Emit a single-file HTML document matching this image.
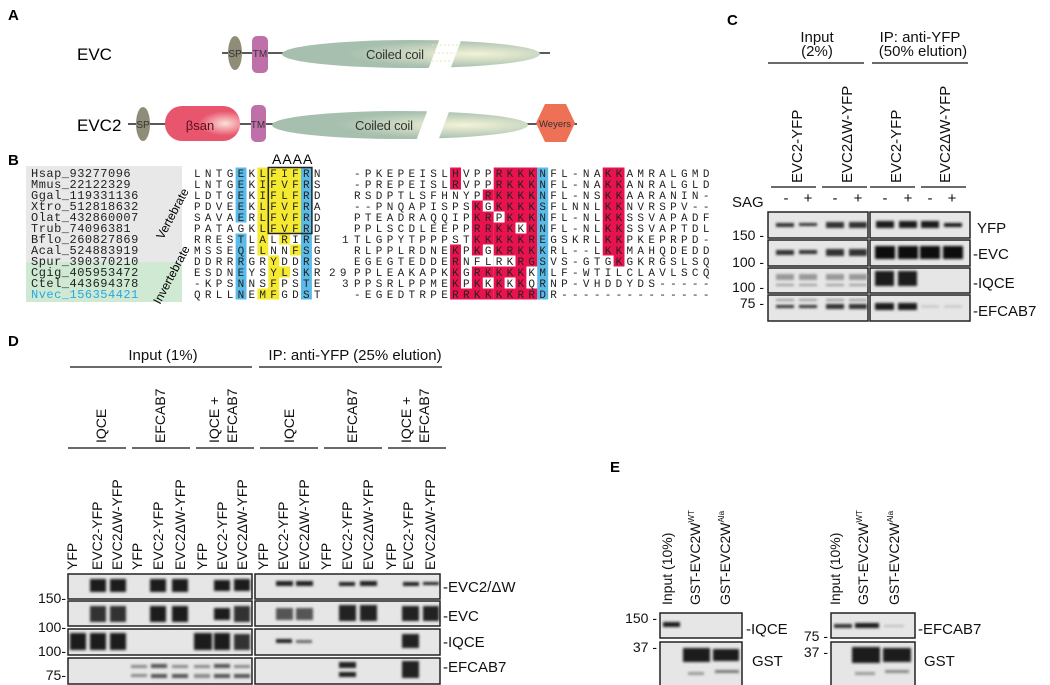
<!DOCTYPE html>
<html><head><meta charset="utf-8"><style>
html,body{margin:0;padding:0;background:#fff}
svg{display:block}
.s{font-family:"Liberation Sans",sans-serif}
.m{font-family:"Liberation Mono",monospace;font-size:11px;letter-spacing:4.3px;fill:#222}
.pl{font-family:"Liberation Sans",sans-serif;font-weight:bold;font-size:15px}
</style></head><body>
<svg width="1050" height="685" viewBox="0 0 1050 685" xmlns="http://www.w3.org/2000/svg">
<defs>
<filter id="b" x="-30%" y="-60%" width="160%" height="220%"><feGaussianBlur stdDeviation="1.2"/></filter>
<radialGradient id="cc" cx="0.75" cy="0.5" r="0.5"><stop offset="0" stop-color="#f4f3d8"/><stop offset="1" stop-color="#a6bfae"/></radialGradient>
<radialGradient id="bs" cx="0.8" cy="0.5" r="0.35"><stop offset="0" stop-color="#fbe0d8"/><stop offset="1" stop-color="#e8566e"/></radialGradient>
</defs>

<text class="pl" x="8" y="20">A</text>
<text class="pl" x="8" y="165">B</text>
<text class="pl" x="727" y="25">C</text>
<text class="pl" x="8" y="346">D</text>
<text class="pl" x="610" y="472">E</text>

<g class="s">
<text x="77" y="60" font-size="17">EVC</text>
<line x1="222" y1="53" x2="550" y2="53" stroke="#222" stroke-width="1.5"/>
<ellipse cx="235" cy="53" rx="7" ry="17" fill="#8f8c78"/>
<text x="235" y="57" font-size="10" text-anchor="middle" fill="#333">SP</text>
<rect x="252" y="36" width="16" height="37" rx="5" fill="#c070a8"/>
<text x="260" y="57" font-size="10" text-anchor="middle" fill="#333">TM</text>
<ellipse cx="411" cy="54" rx="129" ry="14" fill="url(#cc)"/>
<polygon points="440,38 462,38 450,70 428,70" fill="#fff"/>
<line x1="432" y1="45" x2="458" y2="45" stroke="#e0e8b0" stroke-dasharray="2,2"/>
<line x1="430" y1="53" x2="455" y2="53" stroke="#e0e8b0" stroke-dasharray="2,2"/>
<line x1="428" y1="61" x2="452" y2="61" stroke="#e0e8b0" stroke-dasharray="2,2"/>
<text x="366" y="59" font-size="13" fill="#333" textLength="58">Coiled coil</text>

<text x="77" y="131" font-size="17">EVC2</text>
<line x1="128" y1="124" x2="577" y2="124" stroke="#222" stroke-width="1.5"/>
<ellipse cx="143" cy="124" rx="7" ry="17" fill="#8f8c78"/>
<text x="143" y="128" font-size="10" text-anchor="middle" fill="#333">SP</text>
<rect x="165" y="106" width="75" height="35" rx="17" fill="url(#bs)"/>
<text x="200" y="130" font-size="13" text-anchor="middle" fill="#5a1020">βsan</text>
<rect x="251" y="105" width="15" height="37" rx="5" fill="#c070a8"/>
<text x="258" y="128" font-size="10" text-anchor="middle" fill="#333">TM</text>
<ellipse cx="400" cy="125" rx="128" ry="14" fill="url(#cc)"/>
<polygon points="428,109 450,109 438,141 416,141" fill="#fff"/>
<text x="355" y="130" font-size="13" fill="#333" textLength="58">Coiled coil</text>
<polygon points="545,104 566,104 575,123 566,142 545,142 536,123" fill="#ee7055"/>
<text x="555" y="127" font-size="9.5" text-anchor="middle" fill="#333">Weyers</text>
</g>

<rect x="26" y="166" width="156" height="96" fill="#e8e8e8"/>
<rect x="26" y="262" width="156" height="40" fill="#cfe9d3"/>
<g font-family="Liberation Mono,monospace" font-size="12" letter-spacing="0.5" fill="#222">
<text x="31" y="177">Hsap_93277096</text>
<text x="31" y="188">Mmus_22122329</text>
<text x="31" y="199">Ggal_119331136</text>
<text x="31" y="210">Xtro_512818632</text>
<text x="31" y="221">Olat_432860007</text>
<text x="31" y="232">Trub_74096381</text>
<text x="31" y="243">Bflo_260827869</text>
<text x="31" y="254">Acal_524883919</text>
<text x="31" y="265">Spur_390370210</text>
<text x="31" y="276">Cgig_405953472</text>
<text x="31" y="287">Ctel_443694378</text>
<text x="31" y="298" fill="#29a8e0">Nvec_156354421</text>
</g>
<text class="s" font-size="12" transform="translate(163,240) rotate(-62)">Vertebrate</text>
<text class="s" font-size="12" transform="translate(160,305) rotate(-62)">Invertebrate</text>

<g>
<rect x="235.6" y="167.5" width="10.9" height="55" fill="#5bbbe8"/>
<rect x="235.6" y="233.5" width="10.9" height="66" fill="#5bbbe8"/>
<rect x="301" y="167.5" width="10.9" height="132" fill="#5bbbe8"/>
<rect x="257.4" y="167.5" width="43.6" height="66" fill="#f5ea30"/>
<rect x="257.4" y="233.5" width="10.9" height="11" fill="#f5ea30"/>
<rect x="279.2" y="233.5" width="10.9" height="11" fill="#f5ea30"/>
<rect x="257.4" y="244.5" width="10.9" height="11" fill="#f5ea30"/>
<rect x="290.1" y="244.5" width="10.9" height="11" fill="#f5ea30"/>
<rect x="268.3" y="255.5" width="10.9" height="11" fill="#f5ea30"/>
<rect x="268.3" y="266.5" width="21.8" height="11" fill="#f5ea30"/>
<rect x="268.3" y="277.5" width="10.9" height="11" fill="#f5ea30"/>
<rect x="257.4" y="288.5" width="21.8" height="11" fill="#f5ea30"/>
<rect x="268.3" y="167.5" width="43.6" height="66" fill="none" stroke="#222" stroke-width="1.5"/>
</g>
<text class="s" font-size="14" x="272" y="164" letter-spacing="1">AAAA</text>

<g fill="#e8134e">
<rect x="450.1" y="167.5" width="10.9" height="22"/>
<rect x="493.7" y="167.5" width="43.6" height="132"/>
<rect x="482.8" y="189.5" width="10.9" height="11"/>
<rect x="471.9" y="200.5" width="10.9" height="11"/>
<rect x="471.9" y="211.5" width="21.8" height="11"/>
<rect x="471.9" y="222.5" width="21.8" height="22"/>
<rect x="450.1" y="244.5" width="10.9" height="11"/>
<rect x="471.9" y="244.5" width="10.9" height="11"/>
<rect x="450.1" y="255.5" width="10.9" height="11"/>
<rect x="450.1" y="266.5" width="10.9" height="33"/>
<rect x="471.9" y="266.5" width="21.8" height="11"/>
<rect x="471.9" y="277.5" width="10.9" height="11"/>
<rect x="461" y="288.5" width="32.7" height="11"/>
<rect x="602.7" y="167.5" width="21.8" height="88"/>
<rect x="613.6" y="255.5" width="10.9" height="11"/>
</g>
<g fill="#fff">
<rect x="493.7" y="211.5" width="10.9" height="11"/>
<rect x="515.5" y="222.5" width="10.9" height="11"/>
<rect x="493.7" y="255.5" width="21.8" height="11"/>
<rect x="504.6" y="277.5" width="10.9" height="11"/>
<rect x="526.4" y="277.5" width="10.9" height="11"/>
<rect x="526.4" y="266.5" width="10.9" height="11"/>
</g>
<rect x="537.3" y="167.5" width="10.9" height="132" fill="#5bbbe8"/>

<g>
<text class="m" x="194" y="177">LNTGEKLFIFRN</text>
<text class="m" x="194" y="188">LNTGEKIFVFRS</text>
<text class="m" x="194" y="199">LDTGEKIFLFRD</text>
<text class="m" x="194" y="210">PDVEEKLFVFRA</text>
<text class="m" x="194" y="221">SAVAERLFVFRD</text>
<text class="m" x="194" y="232">PATAGKLFVFRD</text>
<text class="m" x="194" y="243">RRESTLALRIRE</text>
<text class="m" x="194" y="254">MSSEQELNNFSG</text>
<text class="m" x="194" y="265">DDRRRGRYDDRS</text>
<text class="m" x="194" y="276">ESDNEYSYLSKR</text>
<text class="m" x="194" y="287">-KPSNNSFPSTE</text>
<text class="m" x="194" y="298">QRLLNEMFGDST</text>

<text class="m" x="354" y="177">-PKEPEISLHVPPRKKKNFL-NAKKAMRALGMD</text>
<text class="m" x="354" y="188">-PREPEISLRVPPRKKKNFL-NAKKANRALGLD</text>
<text class="m" x="354" y="199">RSDPTLSFHNYPRKKKKNFL-NSKKAARANIN-</text>
<text class="m" x="354" y="210">--PNQAPISPSKGKKKKSFLNNLKKNVRSPV--</text>
<text class="m" x="354" y="221">PTEADRAQQIPKRPKKKNFL-NLKKSSVAPADF</text>
<text class="m" x="354" y="232">PPLSCDLEEPPRRKKKKNFL-NLKKSSVAPTDL</text>
<text class="m" x="354" y="243">TLGPYTPPPSTKKKKKREGSKRLKKPKEPRPD-</text>
<text class="m" x="354" y="254">RLPPLRDNEKPKGKRKKKRL--LKKMAHQDEDD</text>
<text class="m" x="354" y="265">EGEGTEDDERNFLRKRGSVS-GTGKGKRGSLSQ</text>
<text class="m" x="354" y="276">PPLEAKAPKKGRKKKKKMLF-WTILCLAVLSCQ</text>
<text class="m" x="354" y="287">PPSRLPPMEKPKKKKKQRNP-VHDDYDS-----</text>
<text class="m" x="354" y="298">-EGEDTRPERRKKKKRRDR--------------</text>
<text class="m" x="342" y="243">1</text>
<text class="m" x="329" y="276" letter-spacing="0">29</text>
<text class="m" x="342" y="287">3</text>
</g>

<g class="s" fill="#111">
<text x="817" y="42" font-size="15" text-anchor="middle">Input</text>
<text x="817" y="56" font-size="15" text-anchor="middle">(2%)</text>
<line x1="768" y1="63" x2="864" y2="63" stroke="#111" stroke-width="1.3"/>
<text x="920" y="42" font-size="15" text-anchor="middle">IP: anti-YFP</text>
<text x="923" y="56" font-size="15" text-anchor="middle">(50% elution)</text>
<line x1="872" y1="63" x2="968" y2="63" stroke="#111" stroke-width="1.3"/>
<text font-size="15" transform="translate(802,183) rotate(-90)">EVC2-YFP</text>
<text font-size="15" transform="translate(852,183) rotate(-90)">EVC2ΔW-YFP</text>
<text font-size="15" transform="translate(901,183) rotate(-90)">EVC2-YFP</text>
<text font-size="15" transform="translate(950,183) rotate(-90)">EVC2ΔW-YFP</text>
<g stroke="#111" stroke-width="1.3">
<line x1="771" y1="187" x2="816" y2="187"/><line x1="822" y1="187" x2="867" y2="187"/>
<line x1="870" y1="187" x2="915" y2="187"/><line x1="921" y1="187" x2="966" y2="187"/>
</g>
<text x="732" y="207" font-size="15">SAG</text>
<g font-size="15" text-anchor="middle">
<text x="786" y="203">-</text><text x="808" y="203">+</text><text x="835" y="203">-</text><text x="858" y="203">+</text>
<text x="885" y="203">-</text><text x="908" y="203">+</text><text x="930" y="203">-</text><text x="952" y="203">+</text>
</g>
<g font-size="14" text-anchor="end">
<text x="764" y="240">150 -</text><text x="764" y="267">100 -</text><text x="764" y="292">100 -</text><text x="764" y="308">75 -</text>
</g>
<g font-size="15">
<text x="977" y="233">YFP</text><text x="973" y="259">-EVC</text><text x="973" y="288">-IQCE</text><text x="973" y="316">-EFCAB7</text>
</g>
</g>
<g fill="#e6e6e6" stroke="#222" stroke-width="1.5">
<rect x="768" y="212" width="100" height="26"/><rect x="870" y="212" width="100" height="26"/>
<rect x="768" y="240" width="100" height="26"/><rect x="870" y="240" width="100" height="26"/>
<rect x="768" y="268" width="100" height="25"/><rect x="870" y="268" width="100" height="25"/>
<rect x="768" y="295" width="100" height="26"/><rect x="870" y="295" width="100" height="26"/>
</g>
<g filter="url(#b)">
<g fill="#333"><rect x="776" y="223" width="18" height="4"/><rect x="799" y="223" width="18" height="3"/><rect x="826" y="222" width="18" height="6"/><rect x="849" y="222" width="18" height="6"/></g>
<g fill="#1a1a1a"><rect x="876" y="221" width="18" height="7"/><rect x="899" y="221" width="18" height="7"/><rect x="921" y="221" width="18" height="7"/><rect x="944" y="223" width="18" height="4"/></g>
<g fill="#333"><rect x="776" y="250" width="18" height="5"/><rect x="799" y="250" width="18" height="4"/><rect x="826" y="249" width="18" height="7"/><rect x="849" y="249" width="18" height="7"/></g>
<g fill="#111"><rect x="875" y="246" width="20" height="13"/><rect x="898" y="246" width="20" height="13"/><rect x="920" y="246" width="20" height="13"/><rect x="943" y="246" width="20" height="13"/></g>
<g fill="#999"><rect x="776" y="274" width="18" height="6"/><rect x="799" y="274" width="18" height="6"/><rect x="826" y="274" width="18" height="6"/><rect x="849" y="274" width="18" height="6"/>
<rect x="776" y="284" width="18" height="2"/><rect x="799" y="284" width="18" height="2"/><rect x="826" y="284" width="18" height="2"/><rect x="849" y="284" width="18" height="2"/></g>
<g fill="#1a1a1a"><rect x="875" y="271" width="19" height="15"/><rect x="898" y="271" width="19" height="15"/></g>
<g fill="#999"><rect x="776" y="299" width="18" height="2"/><rect x="799" y="299" width="18" height="2"/><rect x="826" y="299" width="18" height="2"/><rect x="849" y="299" width="18" height="2"/></g>
<g fill="#333"><rect x="776" y="305" width="18" height="3"/><rect x="799" y="305" width="18" height="3"/><rect x="826" y="304" width="18" height="5"/><rect x="849" y="304" width="18" height="5"/></g>
<g fill="#1a1a1a"><rect x="875" y="303" width="19" height="7"/><rect x="898" y="303" width="19" height="7"/></g>
<g fill="#ccc"><rect x="921" y="305" width="18" height="3"/><rect x="944" y="305" width="18" height="3"/></g>
</g>

<g class="s" fill="#111">
<text x="163" y="360" font-size="15" text-anchor="middle">Input (1%)</text>
<text x="355" y="360" font-size="15" text-anchor="middle">IP: anti-YFP (25% elution)</text>
<g stroke="#111" stroke-width="1.3">
<line x1="70" y1="367" x2="252" y2="367"/><line x1="259" y1="367" x2="442" y2="367"/>
<line x1="68" y1="448" x2="126" y2="448"/><line x1="132" y1="448" x2="190" y2="448"/><line x1="196" y1="448" x2="254" y2="448"/>
<line x1="260" y1="448" x2="318" y2="448"/><line x1="324" y1="448" x2="382" y2="448"/><line x1="388" y1="448" x2="446" y2="448"/>
</g>
<g font-size="14">
<text transform="translate(106,443) rotate(-90)">IQCE</text>
<text transform="translate(165,443) rotate(-90)">EFCAB7</text>
<text transform="translate(219,443) rotate(-90)">IQCE +</text>
<text transform="translate(237,443) rotate(-90)">EFCAB7</text>
<text transform="translate(294,443) rotate(-90)">IQCE</text>
<text transform="translate(357,443) rotate(-90)">EFCAB7</text>
<text transform="translate(411,443) rotate(-90)">IQCE +</text>
<text transform="translate(429,443) rotate(-90)">EFCAB7</text>
</g>
<g font-size="14">
<text transform="translate(77,570) rotate(-90)">YFP</text>
<text transform="translate(102,570) rotate(-90)">EVC2-YFP</text>
<text transform="translate(122,570) rotate(-90)">EVC2ΔW-YFP</text>
<text transform="translate(142,570) rotate(-90)">YFP</text>
<text transform="translate(163,570) rotate(-90)">EVC2-YFP</text>
<text transform="translate(185,570) rotate(-90)">EVC2ΔW-YFP</text>
<text transform="translate(207,570) rotate(-90)">YFP</text>
<text transform="translate(227,570) rotate(-90)">EVC2-YFP</text>
<text transform="translate(247,570) rotate(-90)">EVC2ΔW-YFP</text>
<text transform="translate(268,570) rotate(-90)">YFP</text>
<text transform="translate(288,570) rotate(-90)">EVC2-YFP</text>
<text transform="translate(309,570) rotate(-90)">EVC2ΔW-YFP</text>
<text transform="translate(331,570) rotate(-90)">YFP</text>
<text transform="translate(352,570) rotate(-90)">EVC2-YFP</text>
<text transform="translate(373,570) rotate(-90)">EVC2ΔW-YFP</text>
<text transform="translate(396,570) rotate(-90)">YFP</text>
<text transform="translate(413,570) rotate(-90)">EVC2-YFP</text>
<text transform="translate(435,570) rotate(-90)">EVC2ΔW-YFP</text>
</g>
<g font-size="14" text-anchor="end">
<text x="66" y="603">150-</text><text x="66" y="632">100-</text><text x="66" y="656">100-</text><text x="66" y="680">75-</text>
</g>
<g font-size="15">
<text x="443" y="592">-EVC2/ΔW</text><text x="443" y="621">-EVC</text><text x="443" y="647">-IQCE</text><text x="443" y="672">-EFCAB7</text>
</g>
</g>
<g fill="#e6e6e6" stroke="#222" stroke-width="1.5">
<rect x="68" y="574" width="184" height="25"/><rect x="255" y="574" width="185" height="25"/>
<rect x="68" y="601" width="184" height="25"/><rect x="255" y="601" width="185" height="25"/>
<rect x="68" y="629" width="184" height="26"/><rect x="255" y="629" width="185" height="26"/>
<rect x="68" y="658" width="184" height="26"/><rect x="255" y="658" width="185" height="26"/>
</g>
<g filter="url(#b)">
<g fill="#1a1a1a">
<rect x="90" y="579" width="16" height="13"/><rect x="110" y="579" width="16" height="13"/><rect x="150" y="579" width="16" height="13"/><rect x="172" y="579" width="16" height="13"/><rect x="214" y="580" width="16" height="11"/><rect x="234" y="579" width="16" height="12"/>
<rect x="90" y="606" width="16" height="16" fill="#333"/><rect x="110" y="606" width="16" height="16" fill="#333"/><rect x="150" y="606" width="16" height="16"/><rect x="172" y="606" width="16" height="16"/><rect x="214" y="608" width="16" height="12"/><rect x="234" y="606" width="16" height="16" fill="#333"/>
<rect x="70" y="633" width="16" height="17"/><rect x="90" y="633" width="16" height="17"/><rect x="110" y="633" width="16" height="17"/><rect x="194" y="633" width="18" height="17"/><rect x="214" y="633" width="16" height="17"/><rect x="234" y="634" width="16" height="16" fill="#333"/>
</g>
<g fill="#888"><rect x="131" y="665" width="16" height="3"/><rect x="131" y="674" width="16" height="3"/><rect x="151" y="664" width="16" height="4" fill="#555"/><rect x="151" y="674" width="16" height="4" fill="#555"/><rect x="172" y="665" width="16" height="3"/><rect x="172" y="674" width="16" height="4" fill="#555"/><rect x="194" y="665" width="16" height="3"/><rect x="194" y="674" width="16" height="4"/><rect x="214" y="664" width="16" height="4" fill="#555"/><rect x="214" y="674" width="16" height="4" fill="#555"/><rect x="234" y="665" width="16" height="3"/><rect x="234" y="674" width="16" height="4" fill="#555"/></g>
<g fill="#222">
<rect x="276" y="581" width="17" height="5"/><rect x="296" y="581" width="17" height="5"/><rect x="339" y="582" width="16" height="4"/><rect x="360" y="581" width="17" height="5"/><rect x="403" y="582" width="16" height="4"/><rect x="423" y="582" width="16" height="3"/>
<rect x="276" y="608" width="17" height="12" fill="#555"/><rect x="296" y="608" width="17" height="12" fill="#555"/><rect x="339" y="605" width="17" height="16"/><rect x="360" y="605" width="17" height="16"/><rect x="402" y="606" width="17" height="15"/><rect x="423" y="606" width="16" height="15"/>
<rect x="276" y="639" width="16" height="4"/><rect x="296" y="640" width="16" height="3" fill="#666"/>
<rect x="402" y="634" width="17" height="14"/>
<rect x="339" y="662" width="17" height="6"/><rect x="339" y="672" width="17" height="5"/>
<rect x="402" y="661" width="17" height="17"/>
</g>
</g>

<g class="s" fill="#111">
<g font-size="14">
<text transform="translate(672,605) rotate(-90)">Input (10%)</text>
<text transform="translate(700,605) rotate(-90)">GST-EVC2W<tspan font-size="8" dy="-6">WT</tspan></text>
<text transform="translate(730,605) rotate(-90)">GST-EVC2W<tspan font-size="8" dy="-6">Ala</tspan></text>
<text transform="translate(840,605) rotate(-90)">Input (10%)</text>
<text transform="translate(868,605) rotate(-90)">GST-EVC2W<tspan font-size="8" dy="-6">WT</tspan></text>
<text transform="translate(899,605) rotate(-90)">GST-EVC2W<tspan font-size="8" dy="-6">Ala</tspan></text>
</g>
<g font-size="14" text-anchor="end">
<text x="657" y="623">150 -</text><text x="657" y="652">37 -</text>
<text x="828" y="641">75 -</text><text x="828" y="657">37 -</text>
</g>
<g font-size="15">
<text x="746" y="634">-IQCE</text><text x="752" y="666">GST</text>
<text x="918" y="634">-EFCAB7</text><text x="924" y="666">GST</text>
</g>
</g>
<g fill="#e6e6e6" stroke="#222" stroke-width="1.5">
<rect x="660" y="613" width="82" height="25"/><rect x="660" y="642" width="82" height="44"/>
<rect x="831" y="613" width="84" height="25"/><rect x="831" y="642" width="84" height="44"/>
</g>
<g filter="url(#b)" fill="#1a1a1a">
<rect x="663" y="622" width="17" height="5"/>
<rect x="683" y="648" width="27" height="14"/><rect x="713" y="649" width="26" height="12"/>
<rect x="688" y="672" width="16" height="3" fill="#999"/><rect x="715" y="670" width="24" height="3" fill="#777"/>
<rect x="834" y="624" width="18" height="4" fill="#333"/><rect x="855" y="623" width="24" height="5"/><rect x="884" y="625" width="20" height="2" fill="#bbb"/>
<rect x="852" y="647" width="28" height="16"/><rect x="883" y="648" width="28" height="14"/>
<rect x="855" y="672" width="20" height="3" fill="#999"/><rect x="885" y="670" width="24" height="3" fill="#888"/>
</g>
</svg>
</body></html>
